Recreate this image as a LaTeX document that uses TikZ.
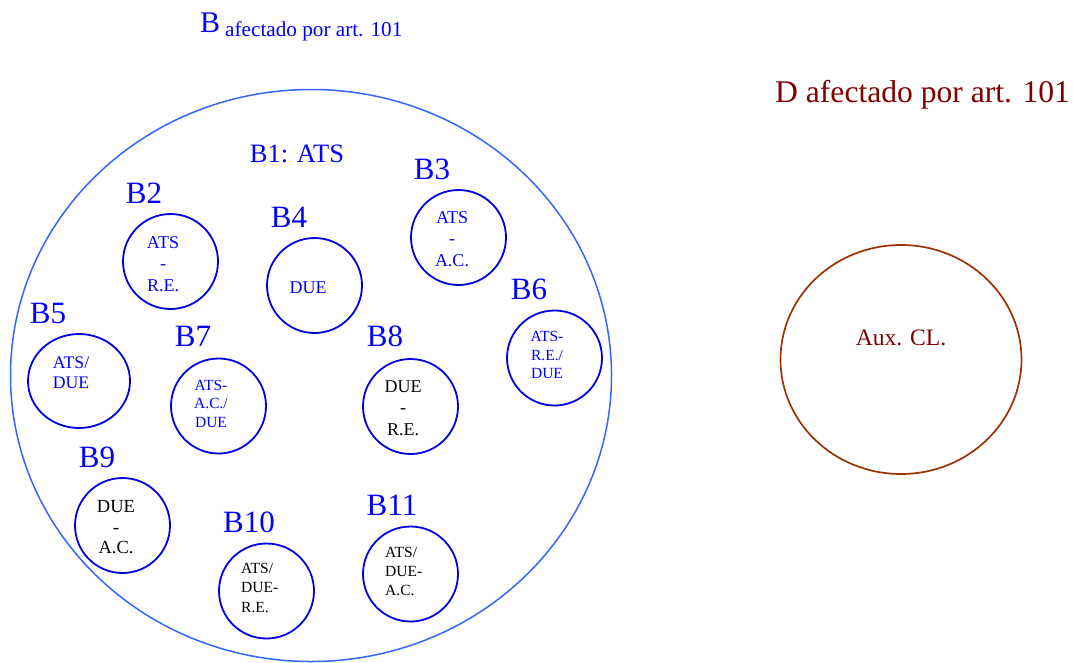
\documentclass[tikz,border=0pt]{standalone}
\usepackage{fontspec}
\setmainfont{Liberation Serif}
\usetikzlibrary{shapes.geometric}
\definecolor{subblue}{RGB}{0,0,230}
\definecolor{bigblue}{RGB}{51,102,255}
\definecolor{darkred}{RGB}{128,0,0}
\definecolor{auxbrown}{RGB}{153,51,0}
\tikzset{
  subset/.style={draw=subblue, line width=1.8pt, ellipse, inner sep=0pt,
    minimum width=95pt, minimum height=95pt},
  blab/.style={text=blue, inner sep=0pt, font=\fontsize{31}{31}\selectfont},
  intxt/.style={inner sep=0pt, align=center, font=\fontsize{18}{21.5}\selectfont},
  smalltxt/.style={inner sep=0pt, align=center, font=\fontsize{15.5}{18.5}\selectfont},
  lefttxt/.style={inner sep=0pt, align=left, anchor=west, font=\fontsize{15.5}{19.5}\selectfont}
}
\begin{document}
\begin{tikzpicture}[x=1pt, y=-1pt, line join=round, line cap=round]
	\useasboundingbox (0,0) rectangle (1073,662);
	% titles
	\node[anchor=base west, inner sep=0pt, text=blue] (btitle) at (200,32.3)
	  {\fontsize{30}{30}\selectfont B\,\raisebox{-3.7pt}{\fontsize{21.2}{21.2}\selectfont afectado por art. 101}};
	\node[anchor=base west, inner sep=0pt, text=darkred] (dtitle) at (775,102)
	  {\fontsize{31.6}{31.6}\selectfont D afectado por art. 101};
	% big sets
	\node[draw=bigblue, line width=1.5pt, ellipse, inner sep=0pt,
	  minimum width=601pt, minimum height=572pt] (bset) at (311,375.5) {};
	\node[draw=auxbrown, line width=1.7pt, ellipse, inner sep=0pt,
	  minimum width=241pt, minimum height=229pt] (dset) at (901,359.5) {};
	\node[text=darkred, inner sep=0pt, font=\fontsize{23.6}{23.6}\selectfont] (auxt) at (901,338) {Aux. CL.};
	\node[text=blue, inner sep=0pt, font=\fontsize{26.5}{26.5}\selectfont] (b1) at (297,154) {B1: ATS};
	% subsets
	\node[subset] (b2) at (170.5,261.5) {};
	\node[subset] (b3) at (458.5,237.5) {};
	\node[subset] (b4) at (314.5,285.5) {};
	\node[subset, minimum width=102pt, minimum height=94pt] (b5) at (79,381) {};
	\node[subset] (b6) at (554.5,358) {};
	\node[subset] (b7) at (218.5,406) {};
	\node[subset] (b8) at (410.5,406.5) {};
	\node[subset] (b9) at (122.5,525.5) {};
	\node[subset] (b10) at (266.5,591) {};
	\node[subset] (b11) at (410.5,574) {};
	% labels
	\node[blab] (l2) at (144,193) {B2};
	\node[blab] (l3) at (432,169) {B3};
	\node[blab] (l4) at (289,217) {B4};
	\node[blab] (l5) at (48,313) {B5};
	\node[blab] (l6) at (529,289) {B6};
	\node[blab] (l7) at (193,336) {B7};
	\node[blab] (l8) at (385,336) {B8};
	\node[blab] (l9) at (97,457) {B9};
	\node[blab] (l10) at (249,522) {B10};
	\node[blab] (l11) at (392,505) {B11};
	% texts
	\node[intxt, text=blue] (t2) at (163,264) {ATS\\-\\R.E.};
	\node[intxt, text=blue] (t3) at (452,239) {ATS\\-\\A.C.};
	\node[intxt, text=blue] (t4) at (308,288) {DUE};
	\node[intxt, text=blue, font=\fontsize{17.7}{20}\selectfont] (t5) at (71,373) {ATS/\\DUE};
	\node[smalltxt, text=blue] (t6) at (547,355) {ATS-\\R.E./\\DUE};
	\node[smalltxt, text=blue] (t7) at (211,403.5) {ATS-\\A.C./\\DUE};
	\node[intxt] (t8) at (403,408) {DUE\\-\\R.E.};
	\node[intxt, font=\fontsize{18.5}{20.5}\selectfont] (t9) at (116,527.5) {DUE\\-\\A.C.};
	\node[lefttxt] (t10) at (241,587.5) {ATS/\\DUE-\\R.E.};
	\node[lefttxt, font=\fontsize{15.5}{19}\selectfont] (t11) at (385,571) {ATS/\\DUE-\\A.C.};
\end{tikzpicture}
\end{document}
